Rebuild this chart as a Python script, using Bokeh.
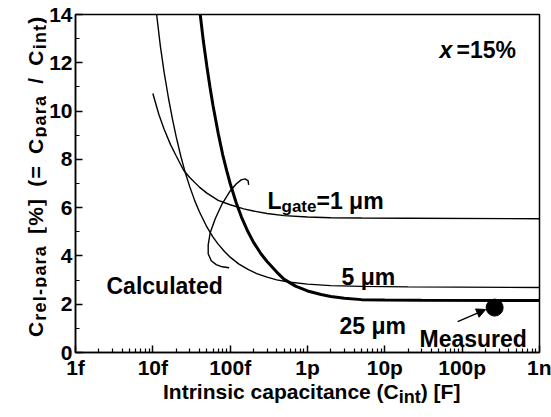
import math
from bokeh.plotting import figure
from bokeh.layouts import row, column
from bokeh.models import (Range1d, FixedTicker, CustomJSTickFormatter, Label,
                          Arrow, NormalHead, Div)
from bokeh.embed import file_html
from bokeh.resources import INLINE

# ---------------- data ----------------
cint_1um = [10e-15, 12e-15, 14e-15, 17e-15, 20e-15, 25e-15, 30e-15, 40e-15, 50e-15,
            70e-15, 100e-15, 150e-15, 200e-15, 300e-15, 500e-15, 1e-12, 2e-12,
            5e-12, 20e-12, 1e-9]
crel_1um = [10.73, 9.85, 9.25, 8.6, 8.15, 7.55, 7.25, 6.85, 6.6,
            6.3, 6.12, 5.95, 5.86, 5.76, 5.67, 5.61, 5.58,
            5.57, 5.56, 5.54]

cint_5um = [11.2e-15, 12.5e-15, 14e-15, 16e-15, 18e-15, 20e-15, 23e-15, 26e-15, 30e-15,
            35e-15, 40e-15, 50e-15, 60e-15, 70e-15, 85e-15, 100e-15, 130e-15, 170e-15,
            220e-15, 300e-15, 400e-15, 600e-15, 1e-12, 2e-12, 5e-12, 20e-12, 1e-9]
crel_5um = [14.0, 12.7, 11.6, 10.5, 9.65, 8.95, 8.13, 7.5, 6.87,
            6.27, 5.83, 5.2, 4.78, 4.49, 4.17, 3.95, 3.66, 3.44,
            3.27, 3.12, 3.01, 2.91, 2.83, 2.77, 2.74, 2.72, 2.69]

cint_25um = [41e-15, 45e-15, 50e-15, 55e-15, 60e-15, 70e-15, 80e-15, 90e-15, 100e-15,
             120e-15, 140e-15, 170e-15, 200e-15, 250e-15, 300e-15, 400e-15, 500e-15,
             700e-15, 1e-12, 1.5e-12, 2e-12, 3e-12, 5e-12, 10e-12, 30e-12, 1e-9]
crel_25um = [14.0, 12.9, 11.85, 10.97, 10.23, 9.08, 8.2, 7.54, 7.0,
             6.19, 5.61, 5.0, 4.57, 4.09, 3.77, 3.33, 3.03,
             2.75, 2.55, 2.40, 2.32, 2.25, 2.19, 2.17, 2.16, 2.15]

measured_cint = [263e-12]
measured_crel = [1.86]

# "Calculated" bracket annotation (data space)
bracket_x = [173.3e-15, 170.8e-15, 156.2e-15, 138.7e-15, 119.5e-15, 100e-15, 78.8e-15,
             64.1e-15, 55.2e-15, 52.0e-15, 52.0e-15, 56.9e-15, 66.0e-15, 78.8e-15, 97.1e-15]
bracket_y = [6.94, 7.11, 7.19, 7.15, 6.98, 6.69, 6.16,
             5.54, 4.96, 4.46, 4.09, 3.80, 3.64, 3.55, 3.51]

x_ticks = [1e-15, 1e-14, 1e-13, 1e-12, 1e-11, 1e-10, 1e-9]
x_tick_labels = ["1f", "10f", "100f", "1p", "10p", "100p", "1n"]
y_ticks = [0, 2, 4, 6, 8, 10, 12, 14]
y_minor = [1, 3, 5, 7, 9, 11, 13]

# ---------------- layout geometry (canvas pixels) ----------------
FONT = "Liberation Sans"
W, H = 551, 417
FL, FT, FR, FB = 74, 14, 539, 353   # frame edges
YW = 46                             # width of the y-title strip
FH = 381                            # figure height (x-title strip below)

p = figure(width=W - YW, height=FH, x_axis_type="log",
           x_range=Range1d(1e-15, 1e-9), y_range=Range1d(0, 14),
           output_backend="svg", toolbar_location=None,
           min_border_left=FL - YW, min_border_right=W - FR,
           min_border_top=FT, min_border_bottom=FH - FB)
p.xgrid.visible = False
p.ygrid.visible = False
p.outline_line_color = "black"
p.outline_line_width = 1.5
p.outline_line_alpha = 1.0
p.background_fill_color = "white"
p.border_fill_color = "white"

x_minor = [m * 10.0 ** e for e in range(-15, -9) for m in range(2, 10)]
p.xaxis.ticker = FixedTicker(ticks=x_ticks, minor_ticks=x_minor)
p.xaxis.formatter = CustomJSTickFormatter(
    args=dict(labels=x_tick_labels),
    code="return labels[Math.round(Math.log10(tick)) + 15];")
p.yaxis.ticker = FixedTicker(ticks=y_ticks, minor_ticks=y_minor)

for ax in (p.xaxis[0], p.yaxis[0]):
    ax.axis_line_color = "black"
    ax.axis_line_width = 1.5
    ax.major_tick_line_color = "black"
    ax.major_tick_line_width = 1.5
    ax.minor_tick_line_color = "black"
    ax.minor_tick_line_width = 1.2
    ax.major_tick_in = 7
    ax.major_tick_out = 0
    ax.minor_tick_in = 4
    ax.minor_tick_out = 0
    ax.major_label_text_font = FONT
    ax.major_label_text_font_style = "bold"
    ax.major_label_text_font_size = "21px"
    ax.major_label_text_color = "black"
    ax.major_label_standoff = 3

# ---------------- curves ----------------
p.line(cint_1um, crel_1um, line_color="black", line_width=1.4)
p.line(cint_5um, crel_5um, line_color="black", line_width=1.4)
p.line(cint_25um, crel_25um, line_color="black", line_width=3.0)
p.line(bracket_x, bracket_y, line_color="black", line_width=1.4)
p.scatter(measured_cint, measured_crel, size=17, marker="circle",
          fill_color="black", line_color="black")

p.add_layout(Arrow(end=NormalHead(size=9, fill_color="black", line_color="black"),
                   x_start=87.5e-12, y_start=1.28, x_end=201e-12, y_end=1.78,
                   line_color="black", line_width=1.4))


def lab(text, X, Y, size=23, style="bold"):
    p.add_layout(Label(x=X - FL, y=FB - Y, x_units="screen", y_units="screen",
                       text=text, text_font=FONT, text_font_style=style,
                       text_font_size=f"{size}px", text_color="black",
                       text_align="left", text_baseline="alphabetic"))


# in-plot texts
lab("x", 438, 50, 23, style="bold italic")
lab("=15%", 455, 50, 23)
lab("L", 266, 201)
lab("gate", 280, 207, 17)
lab("=1 \u03bcm", 315, 201)
lab("5 \u03bcm", 340, 277)
lab("25 \u03bcm", 338, 326)
lab("Calculated", 105, 286)
lab("Measured", 418, 339)

# ---------------- axis titles (HTML, with real subscripts) ----------------
TXT = (f"font-family:'{FONT}';font-weight:bold;font-size:21px;color:#000;"
       "white-space:nowrap;")
SUB = "font-size:18px;vertical-align:baseline;position:relative;top:3px;"

ytitle = (f"<div style='position:relative;width:{YW}px;height:{FH}px;'>"
          f"<div style=\"position:absolute;left:25px;top:337px;line-height:21px;"
          f"transform-origin:0 0;transform:rotate(-90deg);letter-spacing:1.2px;"
          f"word-spacing:4px;{TXT}\">"
          f"C<sub style='{SUB}'>rel-para</sub> [%] (= C<sub style='{SUB}'>para</sub>"
          f" / C<sub style='{SUB}'>int</sub>)</div></div>")
xtitle = (f"<div style='position:relative;width:{W}px;height:{H - FH}px;'>"
          f"<div style=\"position:absolute;left:163px;top:4px;line-height:14px;{TXT}\">"
          f"Intrinsic capacitance (C<sub style='{SUB}top:4px;'>int</sub>) [F]</div></div>")

ydiv = Div(text=ytitle, width=YW, height=FH, margin=0)
xdiv = Div(text=xtitle, width=W, height=H - FH, margin=0)

root = column(row(ydiv, p, spacing=0, margin=0), xdiv, spacing=0, margin=0)

open("out.html", "w").write(file_html(root, INLINE))
